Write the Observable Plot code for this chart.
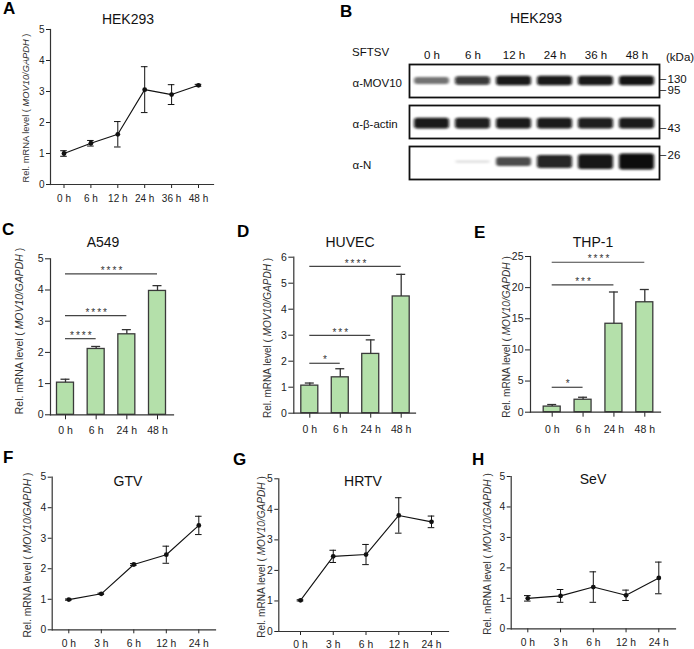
<!DOCTYPE html>
<html><head><meta charset="utf-8">
<script src="https://cdn.jsdelivr.net/npm/d3@7"></script>
<script src="https://cdn.jsdelivr.net/npm/@observablehq/plot@0.6"></script>
<style>
html,body{margin:0;padding:0;background:#fff;overflow:hidden;}
#fig{position:relative;width:694px;height:649px;overflow:hidden;font-family:"Liberation Sans",Arial,sans-serif;color:#111;}
.t{position:absolute;white-space:nowrap;line-height:1;}
.letter{font-weight:bold;font-size:17px;color:#000;}
.title{font-size:14px;transform:translate(-50%,-50%);color:#111;}
.ylab{transform:translate(-50%,-50%) rotate(-90deg);color:#333;}
.mid{transform:translateY(-50%);font-size:11.5px;color:#111;}
</style></head><body><div id="fig"></div>
<script>
// ---------- data ----------
const timesA = ["0 h", "6 h", "12 h", "24 h", "36 h", "48 h"];
const hekMean = [1.0, 1.33, 1.62, 3.06, 2.9, 3.2];
const hekErr = [0.09, 0.09, 0.41, 0.74, 0.32, 0.03];

const lanes = ["0 h", "6 h", "12 h", "24 h", "36 h", "48 h"];
const blotRows = ["α-MOV10", "α-β-actin", "α-N"];
const mov10Signal = [0.55, 0.82, 0.95, 0.95, 0.95, 0.97];
const actinSignal = [0.95, 0.93, 0.95, 0.95, 0.93, 0.95];
const nSignal = [0, 0.14, 0.7, 0.9, 0.96, 1];
const markerKDa = ["130", "95", "43", "26"];
const markerRow = ["α-MOV10", "α-MOV10", "α-β-actin", "α-N"];
const markerPos = [0.41, 0.76, 0.66, 0.25];

const timesBar = ["0 h", "6 h", "24 h", "48 h"];
const a549Mean = [1.03, 2.11, 2.58, 3.97];
const a549Err = [0.11, 0.08, 0.15, 0.17];
const a549Sig = [["0 h", "6 h", "****", 2.44], ["0 h", "24 h", "****", 3.18], ["0 h", "48 h", "****", 4.52]];
const huvecMean = [1.06, 1.38, 2.28, 4.49];
const huvecErr = [0.1, 0.33, 0.54, 0.85];
const huvecSig = [["0 h", "6 h", "*", 1.92], ["0 h", "24 h", "***", 2.99], ["0 h", "48 h", "****", 5.65]];
const thp1Mean = [0.9, 2.0, 14.2, 17.65];
const thp1Err = [0.33, 0.4, 5.1, 2.05];
const thp1Sig = [["0 h", "6 h", "*", 4.0], ["0 h", "24 h", "***", 20.45], ["0 h", "48 h", "****", 24.08]];

const timesF = ["0 h", "3 h", "6 h", "12 h", "24 h"];
const gtvMean = [0.99, 1.18, 2.14, 2.46, 3.42];
const gtvErr = [0.02, 0.02, 0.03, 0.28, 0.3];
const hrtvMean = [1.02, 2.46, 2.52, 3.8, 3.59];
const hrtvErr = [0.02, 0.2, 0.33, 0.58, 0.19];
const sevMean = [1.0, 1.08, 1.37, 1.1, 1.67];
const sevErr = [0.09, 0.21, 0.5, 0.17, 0.52];

const ticks5 = [0, 1, 2, 3, 4, 5];
const ticks6 = [0, 1, 2, 3, 4, 5, 6];
const ticks25 = [0, 5, 10, 15, 20, 25];

// ---------- helpers ----------
const FONT = '"Liberation Sans", Arial, sans-serif';
const GREEN = "#b4e0aa";
const INT = d3.format("d");
const fig = document.getElementById("fig");
function addText(html, cls, x, y, extra = {}) {
  const d = document.createElement("div");
  d.className = "t " + cls;
  d.style.left = x + "px"; d.style.top = y + "px";
  Object.assign(d.style, extra);
  d.innerHTML = html;
  fig.appendChild(d);
}
function place(svg, L, T) {
  svg.style.position = "absolute"; svg.style.left = L + "px"; svg.style.top = T + "px";
  fig.appendChild(svg);
}
const yTitle = 'Rel. mRNA level ( <i>MOV10/GAPDH</i> )';

function linePanel(p) {
  const data = p.times.map((t, i) => ({i, m: p.mean[i], lo: p.mean[i] - p.err[i], hi: p.mean[i] + p.err[i]}));
  const step = (p.c1 - p.c0) / (p.times.length - 1);
  const cw = 3.3 / step;
  const svg = Plot.plot({
    width: p.W, height: p.H,
    marginLeft: p.fx0 - p.L, marginRight: p.L + p.W - p.fx1,
    marginTop: p.fyTop - p.T, marginBottom: p.T + p.H - p.fyBot,
    style: {fontFamily: FONT, fontSize: p.fs + "px", color: "#222", background: "transparent", overflow: "visible"},
    x: {domain: [0, p.times.length - 1], range: [p.c0 - p.L, p.c1 - p.L], ticks: d3.range(p.times.length), tickFormat: i => p.times[i], tickSize: 4, tickPadding: p.xpad, label: null},
    y: {domain: [0, p.ymax], ticks: p.yticks, tickFormat: INT, tickSize: 4, tickPadding: 2, label: null},
    marks: [
      Plot.frame({anchor: "left", stroke: "#333", strokeWidth: 1.2}),
      Plot.frame({anchor: "bottom", stroke: "#333", strokeWidth: 1.2}),
      Plot.ruleX(data, {x: "i", y1: "lo", y2: "hi", stroke: "#111", strokeWidth: 1}),
      Plot.ruleY(data, {y: "hi", x1: d => d.i - cw, x2: d => d.i + cw, stroke: "#111", strokeWidth: 1}),
      Plot.ruleY(data, {y: "lo", x1: d => d.i - cw, x2: d => d.i + cw, stroke: "#111", strokeWidth: 1}),
      Plot.line(data, {x: "i", y: "m", stroke: "#111", strokeWidth: 1.1}),
      Plot.dot(data, {x: "i", y: "m", r: 2.4, fill: "#111"})
    ]
  });
  place(svg, p.L, p.T);
}

function barPanel(p) {
  const data = p.times.map((t, i) => ({i, m: p.mean[i], hi: p.mean[i] + p.err[i]}));
  const sig = p.sig.map(([a, b, label, h]) => ({a: p.times.indexOf(a), b: p.times.indexOf(b), label, h}));
  const step = (p.c1 - p.c0) / (p.times.length - 1);
  const hw = 8.5 / step, cw = 4.5 / step;
  const svg = Plot.plot({
    width: p.W, height: p.H,
    marginLeft: p.fx0 - p.L, marginRight: p.L + p.W - p.fx1,
    marginTop: p.fyTop - p.T, marginBottom: p.T + p.H - p.fyBot,
    style: {fontFamily: FONT, fontSize: "10.5px", color: "#222", background: "transparent", overflow: "visible"},
    x: {domain: [0, p.times.length - 1], range: [p.c0 - p.L, p.c1 - p.L], ticks: d3.range(p.times.length), tickFormat: i => p.times[i], tickSize: 5, tickPadding: p.xpad, label: null},
    y: {domain: [0, p.ymax], ticks: p.yticks, tickFormat: INT, tickSize: 5, tickPadding: 2, label: null},
    marks: [
      Plot.rect(data, {x1: d => d.i - hw, x2: d => d.i + hw, y1: () => 0, y2: "m", fill: GREEN, stroke: "#3a3a3a", strokeWidth: 1.3}),
      Plot.ruleX(data, {x: "i", y1: "m", y2: "hi", stroke: "#333", strokeWidth: 1.3}),
      Plot.ruleY(data, {y: "hi", x1: d => d.i - cw, x2: d => d.i + cw, stroke: "#333", strokeWidth: 1.3}),
      Plot.ruleY(sig, {y: "h", x1: "a", x2: "b", stroke: "#444", strokeWidth: 1.2}),
      Plot.text(sig, {x: d => (d.a + d.b) / 2, y: "h", text: "label", dy: -3, dx: 1, fontSize: 10, fill: "#333"}),
      Plot.frame({anchor: "left", stroke: "#333", strokeWidth: 1.2}),
      Plot.frame({anchor: "bottom", stroke: "#333", strokeWidth: 1.2})
    ]
  });
  d3.select(svg).selectAll("text").filter(function () { return /^\*+$/.test(this.textContent); })
    .style("letter-spacing", "2px");
  place(svg, p.L, p.T);
}

// ---------- panel A ----------
linePanel({times: timesA, mean: hekMean, err: hekErr, L: 0, T: 0, W: 230, H: 215,
  fx0: 50, fx1: 213, fyTop: 29, fyBot: 184, c0: 63.5, c1: 198, ymax: 5, yticks: ticks5, fs: 10, xpad: 6});
addText("A", "letter", 3, 0);
addText("HEK293", "title", 128, 19);
addText(yTitle, "ylab", 27, 108, {fontSize: "9.3px"});

// ---------- panel B (blot) ----------
{
  const L = 340, T = 0, W = 354, H = 200;
  const blot = [];
  const sig = [mov10Signal, actinSignal, nSignal];
  blotRows.forEach((row, r) => lanes.forEach((lane, j) => blot.push({row, lane, s: sig[r][j]})));
  const center = {"α-MOV10": 0.5, "α-β-actin": 0.55, "α-N": 0.47};
  const half = d => d.row === "α-MOV10" ? 0.05 + 0.1 * d.s : d.row === "α-β-actin" ? 0.16 : 0.03 + 0.21 * d.s * d.s;
  const svg = Plot.plot({
    width: W, height: H,
    marginLeft: 409 - L, marginRight: L + W - 659, marginTop: 63 - T, marginBottom: T + H - 180,
    style: {fontFamily: FONT, fontSize: "11.5px", color: "#111", background: "transparent", overflow: "visible"},
    x: {type: "band", domain: lanes, padding: 0, axis: "top", tickSize: 0, tickPadding: 6, label: null},
    fy: {domain: blotRows, paddingInner: 0.2, paddingOuter: 0, axis: null, label: null},
    y: {domain: [0, 1], reverse: true, axis: null},
    opacity: {type: "identity"},
    marks: [
      Plot.barY(blot.filter(d => d.s > 0), {x: "lane", fy: "row",
        y1: d => center[d.row] - half(d), y2: d => center[d.row] + half(d),
        fill: "#080808", fillOpacity: d => d.s, insetLeft: 3, insetRight: 3, rx: 3}),
      Plot.frame({stroke: "#111", strokeWidth: 1.8}),
      Plot.text(blotRows, {fy: d => d, text: d => d, frameAnchor: "left", dx: -57, dy: 2, textAnchor: "start", fill: "#111"}),
      Plot.text(markerKDa, {fy: (d, i) => markerRow[i], y: (d, i) => markerPos[i], text: () => "–", frameAnchor: "right", dx: 3.5, textAnchor: "middle", fill: "#111"}),
      Plot.text(markerKDa, {fy: (d, i) => markerRow[i], y: (d, i) => markerPos[i], text: d => d, frameAnchor: "right", dx: 8, dy: 1, textAnchor: "start", fill: "#111"})
    ]
  });
  const s = d3.select(svg);
  s.insert("defs", ":first-child").html('<filter id="blotBlur" x="-20%" y="-80%" width="140%" height="260%"><feGaussianBlur stdDeviation="1.6 1.1"/></filter>');
  s.selectAll('g[aria-label="bar"]').attr("filter", "url(#blotBlur)");
  place(svg, L, T);
}
addText("B", "letter", 340, 3);
addText("HEK293", "title", 536, 17.7);
addText("SFTSV", "mid", 352, 53);
addText("(kDa)", "mid", 666, 58);

// ---------- panels C, D, E ----------
barPanel({times: timesBar, mean: a549Mean, err: a549Err, sig: a549Sig, L: 0, T: 225, W: 230, H: 215,
  fx0: 50, fx1: 173, fyTop: 258.3, fyBot: 414.3, c0: 65, c1: 157, ymax: 5, yticks: ticks5, xpad: 7});
addText("C", "letter", 2, 221);
addText("A549", "title", 103, 242);
addText(yTitle, "ylab", 20, 331, {fontSize: "10.4px"});

barPanel({times: timesBar, mean: huvecMean, err: huvecErr, sig: huvecSig, L: 230, T: 225, W: 230, H: 215,
  fx0: 293.3, fx1: 415, fyTop: 256.7, fyBot: 412.7, c0: 309.3, c1: 400.7, ymax: 6, yticks: ticks6, xpad: 7});
addText("D", "letter", 237, 223);
addText("HUVEC", "title", 350, 242);
addText(yTitle, "ylab", 268, 337.5, {fontSize: "10px"});

barPanel({times: timesBar, mean: thp1Mean, err: thp1Err, sig: thp1Sig, L: 460, T: 225, W: 234, H: 215,
  fx0: 530, fx1: 660, fyTop: 256, fyBot: 411.7, c0: 551.7, c1: 644.3, ymax: 25, yticks: ticks25, xpad: 8});
addText("E", "letter", 474, 224);
addText("THP-1", "title", 593, 242);
addText(yTitle, "ylab", 507, 336.5, {fontSize: "10.1px"});

// ---------- panels F, G, H ----------
linePanel({times: timesF, mean: gtvMean, err: gtvErr, L: 0, T: 450, W: 230, H: 199,
  fx0: 51.7, fx1: 215, fyTop: 476.7, fyBot: 629.3, c0: 68.3, c1: 198.3, ymax: 5, yticks: ticks5, fs: 10.3, xpad: 6});
addText("F", "letter", 3, 449);
addText("GTV", "title", 128, 481);
addText(yTitle, "ylab", 28, 555, {fontSize: "10.3px"});

linePanel({times: timesF, mean: hrtvMean, err: hrtvErr, L: 230, T: 450, W: 230, H: 199,
  fx0: 278.3, fx1: 448, fyTop: 478.3, fyBot: 631, c0: 300, c1: 431, ymax: 5, yticks: ticks5, fs: 10.3, xpad: 5});
addText("G", "letter", 233, 451);
addText("HRTV", "title", 363, 480.5);
addText(yTitle, "ylab", 262, 556.5, {fontSize: "10.1px"});

linePanel({times: timesF, mean: sevMean, err: sevErr, L: 460, T: 450, W: 234, H: 199,
  fx0: 510.7, fx1: 675, fyTop: 476, fyBot: 628.3, c0: 527.3, c1: 658.3, ymax: 5, yticks: ticks5, fs: 10.3, xpad: 5.5});
addText("H", "letter", 472, 451);
addText("SeV", "title", 593, 479);
addText(yTitle, "ylab", 488, 554, {fontSize: "10.1px"});
</script></body></html>
